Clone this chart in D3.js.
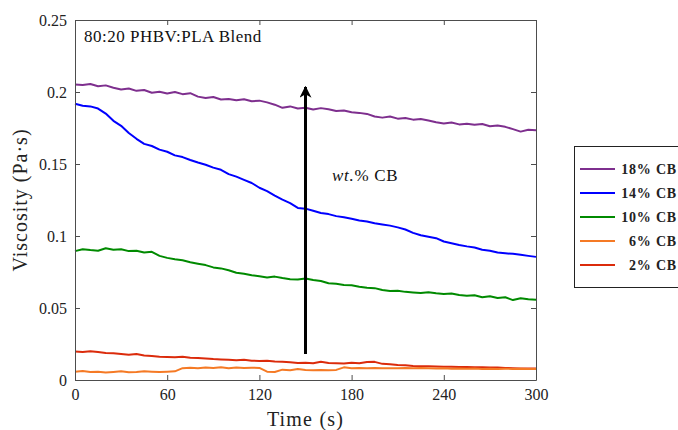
<!DOCTYPE html>
<html>
<head>
<meta charset="utf-8">
<script src="https://cdn.jsdelivr.net/npm/d3@7"></script>
<style>
  body { margin: 0; background: #fff; }
  svg { display: block; font-family: "Liberation Serif", "Times New Roman", serif; }
</style>
</head>
<body>
<div id="chart"></div>
<script>
// time axis, every 5 s
var times = d3.range(0, 301, 5);

var cb18 = [0.2052, 0.2048, 0.2055, 0.2040, 0.2046, 0.2030, 0.2018, 0.2024, 0.2008, 0.2014,
            0.1995, 0.2002, 0.1990, 0.2000, 0.1985, 0.1992, 0.1968, 0.1958, 0.1965, 0.1948,
            0.1952, 0.1942, 0.1950, 0.1936, 0.1940, 0.1928, 0.1912, 0.1890, 0.1900, 0.1885,
            0.1890, 0.1878, 0.1888, 0.1880, 0.1868, 0.1872, 0.1860, 0.1855, 0.1848, 0.1830,
            0.1822, 0.1830, 0.1815, 0.1820, 0.1808, 0.1812, 0.1802, 0.1790, 0.1782, 0.1788,
            0.1775, 0.1780, 0.1772, 0.1778, 0.1762, 0.1768, 0.1758, 0.1742, 0.1725, 0.1738, 0.1735];

var cb14 = [0.1918, 0.1905, 0.1900, 0.1885, 0.1850, 0.1800, 0.1765, 0.1715, 0.1675, 0.1640,
            0.1625, 0.1600, 0.1585, 0.1560, 0.1548, 0.1528, 0.1510, 0.1495, 0.1475, 0.1460,
            0.1430, 0.1412, 0.1390, 0.1368, 0.1335, 0.1312, 0.1280, 0.1252, 0.1228, 0.1195,
            0.1190, 0.1175, 0.1160, 0.1152, 0.1138, 0.1130, 0.1120, 0.1108, 0.1100, 0.1088,
            0.1080, 0.1072, 0.1060, 0.1045, 0.1022, 0.1005, 0.0995, 0.0985, 0.0962, 0.0950,
            0.0938, 0.0928, 0.0920, 0.0905, 0.0898, 0.0885, 0.0880, 0.0876, 0.0870, 0.0862, 0.0855];

var cb10 = [0.0895, 0.0908, 0.0902, 0.0898, 0.0915, 0.0905, 0.0908, 0.0895, 0.0898, 0.0885,
            0.0890, 0.0862, 0.0848, 0.0838, 0.0832, 0.0818, 0.0808, 0.0798, 0.0782, 0.0775,
            0.0762, 0.0745, 0.0738, 0.0728, 0.0720, 0.0712, 0.0718, 0.0708, 0.0700, 0.0698,
            0.0705, 0.0695, 0.0688, 0.0672, 0.0668, 0.0660, 0.0658, 0.0648, 0.0640, 0.0638,
            0.0625, 0.0618, 0.0620, 0.0612, 0.0608, 0.0605, 0.0610, 0.0602, 0.0598, 0.0600,
            0.0590, 0.0585, 0.0588, 0.0575, 0.0582, 0.0570, 0.0575, 0.0555, 0.0568, 0.0560, 0.0558];

var cb6 = [0.0058, 0.0062, 0.0055, 0.0058, 0.0052, 0.0056, 0.0060, 0.0054, 0.0056, 0.0060,
           0.0058, 0.0056, 0.0058, 0.0060, 0.0082, 0.0085, 0.0082, 0.0086, 0.0084, 0.0088,
           0.0082, 0.0086, 0.0084, 0.0085, 0.0084, 0.0058, 0.0056, 0.0072, 0.0068, 0.0076,
           0.0070, 0.0068, 0.0070, 0.0068, 0.0070, 0.0088, 0.0082, 0.0084, 0.0082, 0.0083,
           0.0082, 0.0082, 0.0082, 0.0083, 0.0082, 0.0084, 0.0082, 0.0080, 0.0082, 0.0078,
           0.0080, 0.0078, 0.0080, 0.0077, 0.0078, 0.0077, 0.0078, 0.0077, 0.0078, 0.0077, 0.0077];

var cb2 = [0.0198, 0.0195, 0.0200, 0.0194, 0.0188, 0.0185, 0.0180, 0.0176, 0.0180, 0.0170,
           0.0166, 0.0162, 0.0160, 0.0158, 0.0162, 0.0154, 0.0152, 0.0150, 0.0145, 0.0142,
           0.0140, 0.0138, 0.0140, 0.0134, 0.0132, 0.0134, 0.0128, 0.0126, 0.0124, 0.0118,
           0.0120, 0.0116, 0.0126, 0.0118, 0.0116, 0.0114, 0.0120, 0.0116, 0.0125, 0.0126,
           0.0112, 0.0110, 0.0104, 0.0102, 0.0098, 0.0096, 0.0096, 0.0094, 0.0092, 0.0092,
           0.0090, 0.0090, 0.0088, 0.0088, 0.0086, 0.0086, 0.0084, 0.0082, 0.0080, 0.0080, 0.0080];

var seriesNames = ['18% CB', '14% CB', '10% CB', '6% CB', '2% CB'];
var seriesValues = [cb18, cb14, cb10, cb6, cb2];
var seriesColors = ['#7E2F8E', '#0000FF', '#008A00', '#F57A25', '#DB2B0B'];

var xTicks = [0, 60, 120, 180, 240, 300];
var yTicks = [0, 0.05, 0.1, 0.15, 0.2, 0.25];
var yTickLabels = ['0', '0.05', '0.1', '0.15', '0.2', '0.25'];

var chartW = 678, chartH = 430;
var padLeft = 75, padRight = 536, padTop = 20, padBottom = 380;
var axisCol = '#4d4d4d';

var svg = d3.select('#chart').append('svg')
    .attr('width', chartW)
    .attr('height', chartH);

var x = d3.scaleLinear().domain([0, 300]).range([padLeft, padRight]);
var y = d3.scaleLinear().domain([0, 0.25]).range([padBottom, padTop]);

var line = d3.line()
    .x(function(d) { return x(d[0]); })
    .y(function(d) { return y(d[1]); });

// draw from 2% upward so the higher loadings sit on top
var order = [4, 3, 2, 1, 0];
order.forEach(function(i) {
    var pts = times.map(function(t, k) { return [t, seriesValues[i][k]]; });
    svg.append('path')
        .datum(pts)
        .attr('fill', 'none')
        .attr('stroke', seriesColors[i])
        .attr('stroke-width', 2)
        .attr('stroke-linejoin', 'round')
        .attr('d', line);
});

// axes, ticks inside on all four sides
svg.append('g')
    .attr('transform', 'translate(0,' + padBottom + ')')
    .call(d3.axisBottom(x).tickValues(xTicks).tickSizeInner(-5).tickSizeOuter(0).tickPadding(9));
svg.append('g')
    .attr('transform', 'translate(0,' + padTop + ')')
    .call(d3.axisTop(x).tickValues(xTicks).tickSizeInner(-5).tickSizeOuter(0).tickFormat(''));
svg.append('g')
    .attr('transform', 'translate(' + padLeft + ',0)')
    .call(d3.axisLeft(y).tickValues(yTicks).tickSizeInner(-5).tickSizeOuter(0).tickPadding(8)
        .tickFormat(function(d, i) { return yTickLabels[i]; }));
svg.append('g')
    .attr('transform', 'translate(' + padRight + ',0)')
    .call(d3.axisRight(y).tickValues(yTicks).tickSizeInner(-5).tickSizeOuter(0).tickFormat(''));

svg.selectAll('.domain').attr('stroke', axisCol);
svg.selectAll('.tick line').attr('stroke', axisCol);
svg.selectAll('.tick text')
    .style('font-family', '"Liberation Serif", serif')
    .style('font-size', '16px')
    .attr('fill', '#222');

svg.append('text')
    .attr('x', (padLeft + padRight) / 2)
    .attr('y', 426)
    .attr('text-anchor', 'middle')
    .style('font-size', '20px')
    .style('letter-spacing', '1.2px')
    .attr('fill', '#222')
    .text('Time (s)');

svg.append('text')
    .attr('transform', 'translate(27,' + ((padTop + padBottom) / 2) + ') rotate(-90)')
    .attr('text-anchor', 'middle')
    .style('font-size', '20px')
    .style('letter-spacing', '1px')
    .attr('fill', '#222')
    .text('Viscosity (Pa\u00b7s)');

svg.append('text')
    .attr('x', 84)
    .attr('y', 42)
    .style('font-size', '17px')
    .style('letter-spacing', '0.5px')
    .attr('fill', '#111')
    .text('80:20 PHBV:PLA Blend');

// arrow showing increasing CB loading
svg.append('defs').append('marker')
    .attr('id', 'head')
    .attr('viewBox', '0 0 10 10')
    .attr('refX', 9)
    .attr('refY', 5)
    .attr('markerWidth', 4)
    .attr('markerHeight', 4)
    .attr('orient', 'auto')
    .append('path')
    .attr('d', 'M0,0 L10,5 L0,10 L3,5 Z')
    .attr('fill', '#000');

svg.append('line')
    .attr('x1', x(150)).attr('y1', y(0.018))
    .attr('x2', x(150)).attr('y2', y(0.2035))
    .attr('stroke', '#000')
    .attr('stroke-width', 3)
    .attr('marker-end', 'url(#head)');

var lab = svg.append('text')
    .attr('x', 332)
    .attr('y', 181)
    .style('font-size', '17px')
    .style('letter-spacing', '0.7px')
    .attr('fill', '#111');
lab.append('tspan').style('font-style', 'italic').text('wt.');
lab.append('tspan').text('% CB');

// legend
var legY = d3.scalePoint().domain(seriesNames).range([169, 265]);
svg.append('rect')
    .attr('x', 574.5).attr('y', 146.5)
    .attr('width', 110).attr('height', 141)
    .attr('fill', '#fff')
    .attr('stroke', '#222');

var leg = svg.selectAll('.leg')
    .data(seriesNames)
    .enter().append('g')
    .attr('class', 'leg')
    .attr('transform', function(d) { return 'translate(0,' + legY(d) + ')'; });
leg.append('line')
    .attr('x1', 580).attr('x2', 615)
    .attr('stroke', function(d, i) { return seriesColors[i]; })
    .attr('stroke-width', 2);
leg.append('text')
    .attr('x', 677)
    .attr('dy', '0.35em')
    .attr('text-anchor', 'end')
    .style('font-size', '14px')
    .style('font-weight', 'bold')
    .style('letter-spacing', '0.8px')
    .attr('fill', '#222')
    .text(function(d) { return d; });
</script>
</body>
</html>
